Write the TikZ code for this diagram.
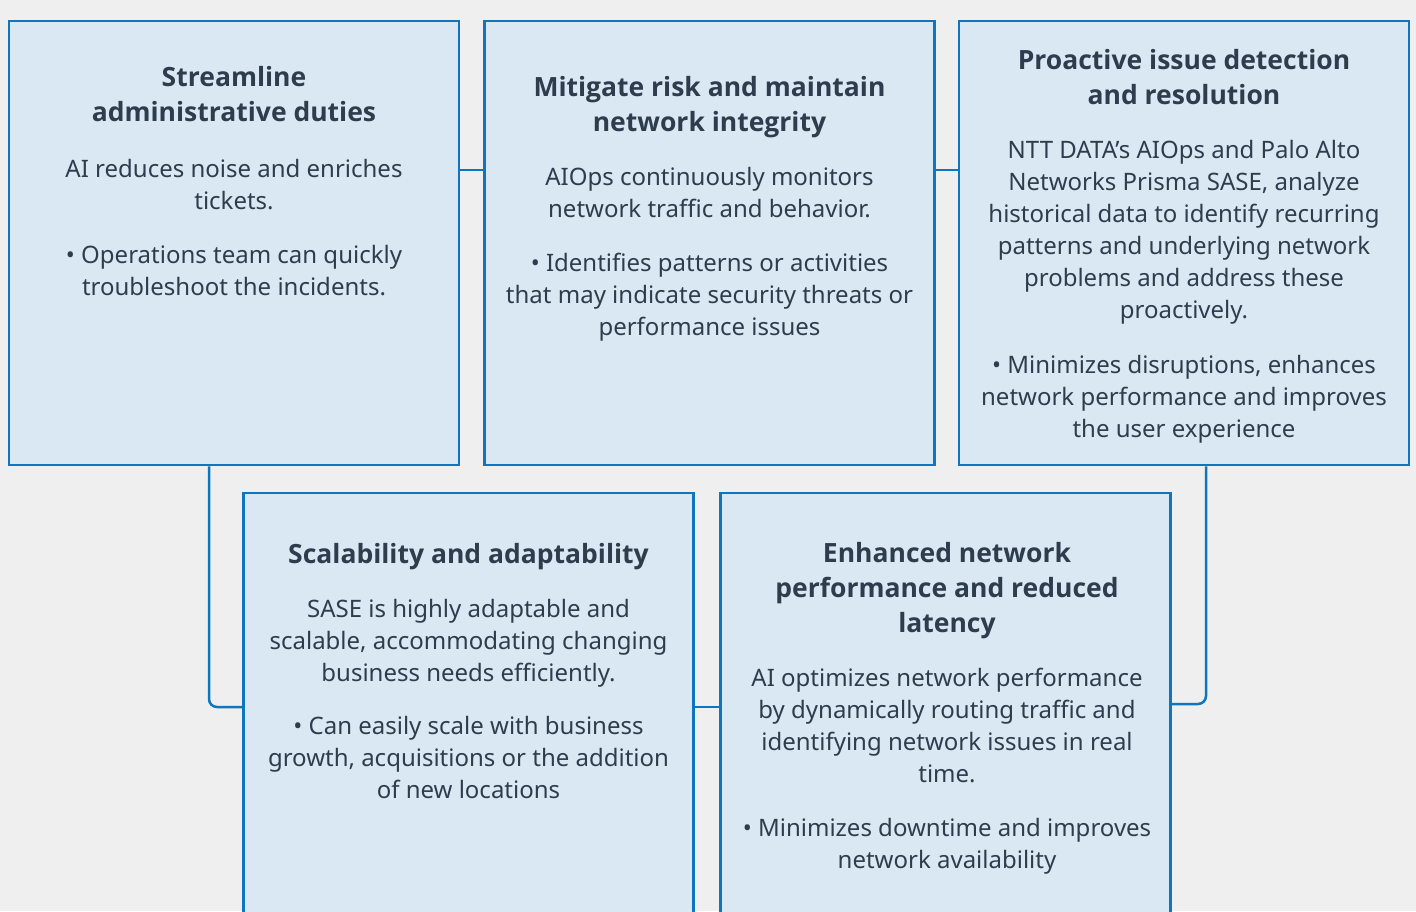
\documentclass[tikz,border=0pt]{standalone}
\usepackage{fontspec}
\setmainfont{Noto Sans}
\newfontfamily\headfont{Open Sans}
\usepackage{xcolor}
\usepackage{tikz}

\definecolor{pagebg}{HTML}{EFEFEF}
\definecolor{cardfill}{HTML}{DAE8F3}
\definecolor{cardline}{HTML}{0E76BF}
\definecolor{ink}{HTML}{2E3D4D}

\tikzset{
  card/.style={draw=cardline, fill=cardfill, line width=2.5pt, minimum width=450pt, inner sep=0pt},
  head/.style={text=ink, align=center, anchor=base, inner sep=0pt, font=\headfont\bfseries\fontsize{26.5}{35}\selectfont},
  body/.style={text=ink, align=center, anchor=base, inner sep=0pt, font=\fontsize{24}{32}\selectfont},
  link/.style={draw=cardline, line width=2.5pt, rounded corners=8pt}
}

\begin{document}
\begin{tikzpicture}[x=1pt,y=-1pt]
% Page
\path[use as bounding box, fill=pagebg] (0,0) rectangle (1416,911);
\clip (0,0) rectangle (1416,911);

% Cards, top row
\node[card, minimum height=444pt] (admin) at (234,243) {};
\node[card, minimum height=444pt] (risk) at (709.5,243) {};
\node[card, minimum height=444pt] (detect) at (1184,243) {};

% Cards, bottom row
\node[card, minimum height=460pt] (scale) at (468.5,723) {};
\node[card, minimum height=460pt] (latency) at (945.5,723) {};

% Links
\draw[link] (admin.east |- 0,170) -- (risk.west |- 0,170);
\draw[link] (risk.east |- 0,170) -- (detect.west |- 0,170);
\draw[link] (admin.south -| 209,0) |- (scale.west |- 0,707);
\draw[link] (scale.east |- 0,707) -- (latency.west |- 0,707);
\draw[link] (detect.south -| 1206,0) |- (latency.east |- 0,704);

% Texts (placed at the baseline of their last line)
\node[head] (adminhead) at (234,121) {Streamline\\administrative duties};
\node[body] (admintext) at (234,209) {AI reduces noise and enriches\\tickets.};
\node[body] (adminpoint) at (234,295) {• Operations team can quickly\\troubleshoot the incidents.};

\node[head] (riskhead) at (709.5,131) {Mitigate risk and maintain\\network integrity};
\node[body] (risktext) at (709.5,217) {AIOps continuously monitors\\network traffic and behavior.};
\node[body] (riskpoint) at (709.5,335) {• Identifies patterns or activities\\that may indicate security threats or\\performance issues};

\node[head] (detecthead) at (1184,104) {Proactive issue detection\\and resolution};
\node[body] (detecttext) at (1184,318) {NTT DATA’s AIOps and Palo Alto\\Networks Prisma SASE, analyze\\historical data to identify recurring\\patterns and underlying network\\problems and address these\\proactively.};
\node[body] (detectpoint) at (1184,437) {• Minimizes disruptions, enhances\\network performance and improves\\the user experience};

\node[head] (scalehead) at (468.5,563) {Scalability and adaptability};
\node[body] (scaletext) at (468.5,681) {SASE is highly adaptable and\\scalable, accommodating changing\\business needs efficiently.};
\node[body] (scalepoint) at (468.5,798) {• Can easily scale with business\\growth, acquisitions or the addition\\of new locations};

\node[head] (latencyhead) at (947,632) {Enhanced network\\performance and reduced\\latency};
\node[body] (latencytext) at (947,782) {AI optimizes network performance\\by dynamically routing traffic and\\identifying network issues in real\\time.};
\node[body] (latencypoint) at (947,868) {• Minimizes downtime and improves\\network availability};
\end{tikzpicture}
\end{document}
